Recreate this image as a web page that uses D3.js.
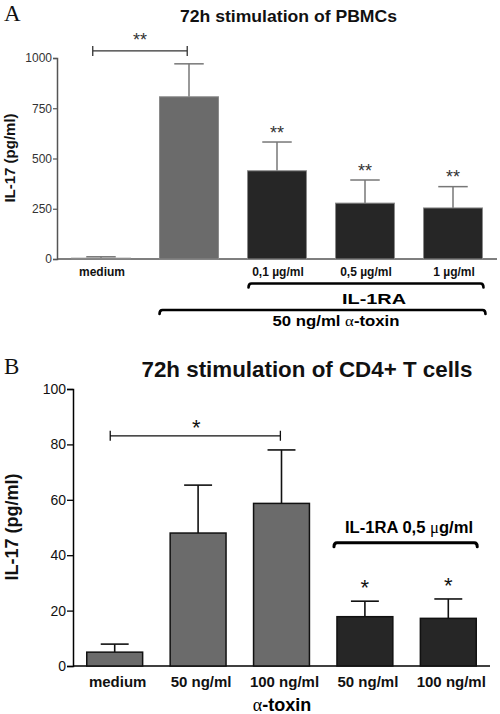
<!DOCTYPE html>
<html><head><meta charset="utf-8">
<script src="https://cdn.jsdelivr.net/npm/d3@7"></script>
<style>body{margin:0;background:#fff}svg{display:block}</style>
</head><body>
<svg id="c" width="500" height="714" font-family="Liberation Sans, Arial, sans-serif"></svg>
<script>
// Panel A data
const catsA = ["medium", "", "0,1 µg/ml", "0,5 µg/ml", "1 µg/ml"];
const valsA = [4, 807, 439, 278, 254];
const semA = [7, 164, 143, 115, 106];
const starsA = ["", "", "**", "**", "**"];
const ticksA = [0, 250, 500, 750, 1000];
// Panel B data
const catsB = ["medium", "50 ng/ml", "100 ng/ml", "50 ng/ml", "100 ng/ml"];
const valsB = [5.0, 48.0, 58.7, 17.8, 17.2];
const semB = [2.9, 17.3, 19.3, 5.6, 7.0];
const starsB = ["", "", "", "*", "*"];
const ticksB = [0, 20, 40, 60, 80, 100];
const groupA = ["gray", "gray", "dark", "dark", "dark"];
const groupB = ["gray", "gray", "gray", "dark", "dark"];

const svg = d3.select("#c");
const fillC = {gray: "#6b6b6b", dark: "#262626"};
const SERIF = "Liberation Serif, Times New Roman, serif";

function bracket(g, x1, x2, y, sw) {
  g.append("path")
    .attr("d", `M${x1},${y + 4}Q${x1},${y} ${x1 + 3},${y}L${x2 - 3},${y}Q${x2},${y} ${x2},${y + 4}`)
    .attr("fill", "none").attr("stroke", "#000").attr("stroke-width", sw).attr("stroke-linecap", "round");
}
function sigBar(g, x1, x2, y, col) {
  g.append("path").attr("d", `M${x1},${y - 5}V${y + 5}M${x1},${y}H${x2}M${x2},${y - 5}V${y + 5}`)
    .attr("fill", "none").attr("stroke", col).attr("stroke-width", 1.3);
}

// ---------- Panel A ----------
{
  const g = svg.append("g");
  const x = d3.scaleBand().domain(d3.range(5)).range([57, 497]).paddingInner(0.33).paddingOuter(0.165);
  const y = d3.scaleLinear().domain([0, 1000]).range([259, 58]);
  const bw = x.bandwidth();
  const ya = g.append("g").attr("transform", "translate(57,0)")
    .call(d3.axisLeft(y).tickValues(ticksA).tickFormat(d3.format("d")).tickSize(4).tickPadding(1));
  ya.select(".domain").attr("stroke", "#555").attr("stroke-width", 1.5);
  ya.selectAll(".tick line").attr("stroke", "#555").attr("stroke-width", 1.2);
  ya.selectAll("text").attr("font-size", 12).attr("fill", "#333").attr("font-family", "Liberation Sans, Arial");
  g.append("line").attr("x1", 57).attr("x2", 497).attr("y1", y(0)).attr("y2", y(0))
    .attr("stroke", "#555").attr("stroke-width", 1.5);
  valsA.forEach((v, i) => {
    const cx = x(i) + bw / 2;
    g.append("line").attr("x1", cx).attr("x2", cx).attr("y1", y(v)).attr("y2", y(v + semA[i]))
      .attr("stroke", "#777").attr("stroke-width", 1.5);
    g.append("line").attr("x1", cx - bw / 4).attr("x2", cx + bw / 4).attr("y1", y(v + semA[i])).attr("y2", y(v + semA[i]))
      .attr("stroke", "#777").attr("stroke-width", 1.5);
    if (starsA[i]) g.append("text").attr("x", cx).attr("y", y(v + semA[i]) - 3.5).attr("text-anchor", "middle")
      .attr("font-size", 18).attr("fill", "#333").text(starsA[i]);
  });
  g.selectAll("rect.bar").data(valsA).join("rect").attr("class", "bar")
    .attr("x", (d, i) => x(i)).attr("width", bw).attr("y", d => y(d)).attr("height", d => y(0) - y(d))
    .attr("fill", (d, i) => fillC[groupA[i]]).attr("stroke", "#8a8a8a").attr("stroke-width", 1);
  catsA.forEach((c, i) => {
    g.append("text").attr("x", x(i) + bw / 2 + 1).attr("y", 276).attr("text-anchor", "middle")
      .attr("font-size", 12).attr("font-weight", "bold").attr("fill", "#111").text(c);
  });
  const a1 = x(0) + 0.36 * bw, a2 = x(1) + 0.47 * bw;
  sigBar(g, a1, a2, y(1035), "#333");
  g.append("text").attr("x", (a1 + a2) / 2).attr("y", 45.5).attr("text-anchor", "middle")
    .attr("font-size", 18).attr("fill", "#333").text("**");
  bracket(g, x(2) + 1, x(4) + bw + 1, 283.5, 2.6);
  g.append("text").attr("x", 374).attr("y", 303.5).attr("text-anchor", "middle").attr("font-size", 15.5)
    .attr("font-weight", "bold").attr("textLength", 64).attr("lengthAdjust", "spacingAndGlyphs").text("IL-1RA");
  bracket(g, x(1), x(4) + bw + 3, 310, 2.6);
  const t = g.append("text").attr("x", 336).attr("y", 326).attr("text-anchor", "middle").attr("font-size", 14.5)
    .attr("font-weight", "bold").attr("textLength", 127).attr("lengthAdjust", "spacingAndGlyphs");
  t.append("tspan").text("50 ng/ml ");
  t.append("tspan").attr("font-family", SERIF).attr("font-weight", "normal").text("α");
  t.append("tspan").text("-toxin");
  g.append("text").attr("x", 288.5).attr("y", 21.5).attr("text-anchor", "middle").attr("font-size", 16.5)
    .attr("font-weight", "bold").attr("textLength", 217).attr("lengthAdjust", "spacingAndGlyphs").attr("fill", "#111")
    .text("72h stimulation of PBMCs");
  g.append("text").attr("x", 4).attr("y", 21).attr("font-size", 23).attr("font-family", SERIF)
    .attr("fill", "#111").text("A");
  g.append("text").attr("transform", "translate(15,158) rotate(-90)").attr("text-anchor", "middle")
    .attr("font-size", 15).attr("font-weight", "bold").attr("fill", "#111").text("IL-17 (pg/ml)");
}

// ---------- Panel B ----------
{
  const g = svg.append("g");
  const x = d3.scaleBand().domain(d3.range(5)).range([73, 490]).paddingInner(0.33).paddingOuter(0.165);
  const y = d3.scaleLinear().domain([0, 100]).range([666, 389]);
  const bw = x.bandwidth();
  const ya = g.append("g").attr("transform", "translate(73,0)")
    .call(d3.axisLeft(y).tickValues(ticksB).tickFormat(d3.format("d")).tickSize(6).tickPadding(1));
  ya.select(".domain").attr("stroke", "#000").attr("stroke-width", 1.5);
  ya.selectAll(".tick line").attr("stroke", "#000").attr("stroke-width", 1.3);
  ya.selectAll("text").attr("font-size", 14).attr("fill", "#111").attr("font-family", "Liberation Sans, Arial");
  g.append("line").attr("x1", 73).attr("x2", 490).attr("y1", y(0)).attr("y2", y(0))
    .attr("stroke", "#000").attr("stroke-width", 1.5);
  valsB.forEach((v, i) => {
    const cx = x(i) + bw / 2;
    g.append("line").attr("x1", cx).attr("x2", cx).attr("y1", y(v)).attr("y2", y(v + semB[i]))
      .attr("stroke", "#111").attr("stroke-width", 1.6);
    g.append("line").attr("x1", cx - bw / 4).attr("x2", cx + bw / 4).attr("y1", y(v + semB[i])).attr("y2", y(v + semB[i]))
      .attr("stroke", "#111").attr("stroke-width", 1.6);
    if (starsB[i]) g.append("text").attr("x", cx).attr("y", y(v + semB[i]) - 5.7).attr("text-anchor", "middle")
      .attr("font-size", 22).attr("fill", "#111").text(starsB[i]);
  });
  g.selectAll("rect.bar").data(valsB).join("rect").attr("class", "bar")
    .attr("x", (d, i) => x(i)).attr("width", bw).attr("y", d => y(d)).attr("height", d => y(0) - y(d))
    .attr("fill", (d, i) => fillC[groupB[i]]).attr("stroke", "#111").attr("stroke-width", 1.5);
  catsB.forEach((c, i) => {
    g.append("text").attr("x", x(i) + bw / 2 + 3).attr("y", 687).attr("text-anchor", "middle")
      .attr("font-size", 15).attr("font-weight", "bold").attr("fill", "#111").text(c);
  });
  const s1 = x(0) + 0.42 * bw, s2 = x(2) + 0.48 * bw;
  sigBar(g, s1, s2, y(83.1), "#111");
  g.append("text").attr("x", (s1 + s2) / 2 + 1).attr("y", 434.5).attr("text-anchor", "middle")
    .attr("font-size", 22).attr("fill", "#111").text("*");
  bracket(g, x(3) - 3, x(4) + bw + 1, 542.7, 3);
  const t2 = g.append("text").attr("x", 409).attr("y", 533).attr("text-anchor", "middle").attr("font-size", 16)
    .attr("font-weight", "bold").attr("textLength", 128).attr("lengthAdjust", "spacingAndGlyphs");
  t2.append("tspan").text("IL-1RA 0,5 ");
  t2.append("tspan").attr("font-family", SERIF).attr("font-weight", "normal").text("μ");
  t2.append("tspan").text("g/ml");
  const t3 = g.append("text").attr("x", 282).attr("y", 710.5).attr("text-anchor", "middle").attr("font-size", 18)
    .attr("font-weight", "bold");
  t3.append("tspan").attr("font-family", SERIF).attr("font-weight", "normal").text("α");
  t3.append("tspan").text("-toxin");
  g.append("text").attr("x", 307).attr("y", 376.5).attr("text-anchor", "middle").attr("font-size", 22)
    .attr("font-weight", "bold").attr("textLength", 331).attr("lengthAdjust", "spacingAndGlyphs").attr("fill", "#111")
    .text("72h stimulation of CD4+ T cells");
  g.append("text").attr("x", 4).attr("y", 374).attr("font-size", 23).attr("font-family", SERIF)
    .attr("fill", "#111").text("B");
  g.append("text").attr("transform", "translate(18,527) rotate(-90)").attr("text-anchor", "middle")
    .attr("font-size", 18).attr("font-weight", "bold").attr("fill", "#111").text("IL-17 (pg/ml)");
}
</script>
</body></html>
